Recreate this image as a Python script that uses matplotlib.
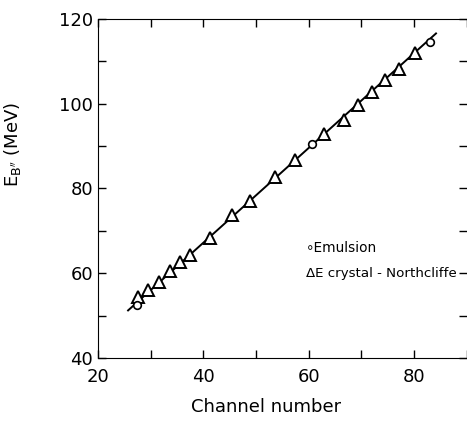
import matplotlib as mpl
mpl.use('Agg')
import matplotlib.pyplot as plt
from matplotlib.ticker import MultipleLocator

# Delta-E crystal (Northcliffe) points
tri_x = [27.6, 29.5, 31.5, 33.6, 35.6, 37.4, 41.3, 45.5, 48.9, 53.6,
         57.4, 63.0, 66.7, 69.3, 72.1, 74.6, 77.1, 80.2]
tri_y = [54.3, 56.1, 57.9, 60.4, 62.6, 64.4, 68.4, 73.7, 77.0, 82.6,
         86.7, 92.8, 96.1, 99.7, 102.8, 105.6, 108.3, 111.9]

# emulsion points
emu_x = [27.4, 60.6, 83.0]
emu_y = [52.4, 90.4, 114.6]

# fitted line end points
fit_x = [25.7, 84.2]
fit_y = [51.2, 116.6]

plt.rcParams['font.family'] = 'DejaVu Sans'

fig = plt.figure(figsize=(4.67, 4.23), dpi=100)
ax = fig.add_axes([0.21, 0.154, 0.789, 0.801])

ax.plot(fit_x, fit_y, color='black', lw=1.4, zorder=1)
ax.plot(tri_x, tri_y, ls='none', marker='^', ms=8, mfc='white', mec='black', mew=1.4, zorder=2)
ax.plot(emu_x, emu_y, ls='none', marker='o', ms=5.5, mfc='white', mec='black', mew=1.2, zorder=3)

ax.set_xlim(20, 90)
ax.set_ylim(40, 120)
ax.xaxis.set_major_locator(MultipleLocator(20))
ax.xaxis.set_minor_locator(MultipleLocator(10))
ax.yaxis.set_major_locator(MultipleLocator(20))
ax.yaxis.set_minor_locator(MultipleLocator(10))
ax.tick_params(which='both', direction='in', top=True, right=True, labelsize=13, width=1.0)
ax.tick_params(which='major', length=6)
ax.tick_params(which='minor', length=6)
ax.tick_params(axis='x', pad=7)
ax.spines['right'].set_visible(False)

ax.set_xlabel('Channel number', fontsize=13)
ax.xaxis.set_label_coords(0.455, -0.118)
ax.set_ylabel("E$_{\\mathrm{B}''}$ (MeV)", fontsize=13)
ax.yaxis.set_label_coords(-0.205, 0.63)

ax.text(0.565, 0.312, '\u2218Emulsion', transform=ax.transAxes, fontsize=9.8)
ax.text(0.565, 0.238, '\u0394E crystal - Northcliffe', transform=ax.transAxes, fontsize=9.6)

fig.savefig('out.png', dpi=100)
